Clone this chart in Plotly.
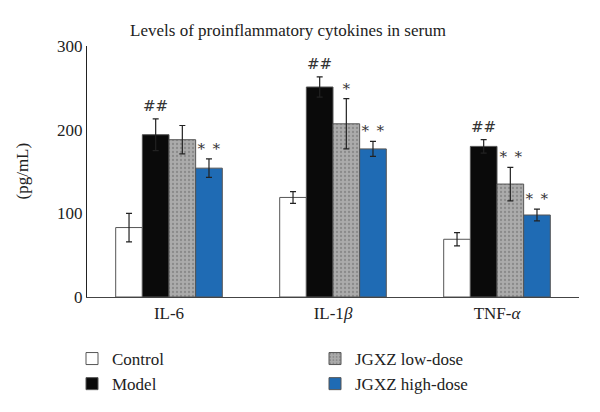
import plotly.graph_objects as go

categories = ["IL-6", "IL-1<i>β</i>", "TNF-<i>α</i>"]
groups = ["Control", "Model", "JGXZ low-dose", "JGXZ high-dose"]
control = [83, 119, 69]
control_err = [17, 7, 8]
model = [194, 251, 180]
model_err = [19, 12, 8]
low = [188, 207, 135]
low_err = [17, 30, 20]
high = [154, 177, 98]
high_err = [11, 9, 7]
marks = [
    ["", "##", "", "∗ ∗"],
    ["", "##", "∗", "∗ ∗"],
    ["", "##", "∗ ∗", "∗ ∗"],
]

values = [control, model, low, high]
errors = [control_err, model_err, low_err, high_err]
fills = ["white", "#0a0a0a", "#a9a9a9", "#1f6bb4"]
legends = ["legend", "legend", "legend2", "legend2"]

FONT = "Liberation Serif"
W, H = 600, 412
ml, mr, mt, mb = 87, 21, 46, 115
bargap = 0.35

fig = go.Figure()
for i, g in enumerate(groups):
    marker = dict(color=fills[i], line=dict(color="#555555", width=1))
    if i == 2:
        marker["pattern"] = dict(shape=".", fgcolor="#8a8a8a", bgcolor="#ababab",
                                 size=4, solidity=0.25, fillmode="replace")
    fig.add_trace(go.Bar(
        x=categories, y=values[i], name=g, marker=marker,
        error_y=dict(type="data", array=errors[i], color="#222222",
                     thickness=1.2, width=3),
        legend=legends[i],
    ))

# annotations above error bars
plot_w = W - ml - mr
cat_px = plot_w / len(categories)
bar_px = cat_px * (1 - bargap) / len(groups)
for ci, cat in enumerate(categories):
    for gi in range(len(groups)):
        txt = marks[ci][gi]
        if not txt:
            continue
        fig.add_annotation(
            x=cat, y=values[gi][ci] + errors[gi][ci], xref="x", yref="y",
            text=txt, showarrow=False, yanchor="bottom", yshift=2,
            xshift=(gi - 1.5) * bar_px,
            font=dict(family="DejaVu Serif", size=15, color="#333333"),
        )

fig.add_annotation(
    text="(pg/mL)", textangle=-90, xref="paper", yref="paper",
    x=(22 - ml) / plot_w, y=0.5, xanchor="center", yanchor="middle",
    showarrow=False, font=dict(family=FONT, size=17, color="#222222"),
)

leg_y = 1 - 341 / H
fig.update_layout(
    width=W, height=H,
    margin=dict(l=ml, r=mr, t=mt, b=mb, autoexpand=False),
    paper_bgcolor="white", plot_bgcolor="white",
    barmode="group", bargap=bargap, bargroupgap=0,
    font=dict(family=FONT, size=17, color="#222222"),
    title=dict(text="Levels of proinflammatory cytokines in serum",
               x=0.48, xanchor="center", y=1 - 30 / H, yanchor="middle",
               font=dict(family=FONT, size=17, color="#222222")),
    legend=dict(x=72 / W, xref="container", xanchor="left",
                y=leg_y, yref="container", yanchor="top",
                orientation="v", font=dict(family=FONT, size=17),
                tracegroupgap=0, itemwidth=30, bgcolor="rgba(0,0,0,0)"),
    legend2=dict(x=315 / W, xref="container", xanchor="left",
                 y=leg_y, yref="container", yanchor="top",
                 orientation="v", font=dict(family=FONT, size=17),
                 tracegroupgap=0, itemwidth=30, bgcolor="rgba(0,0,0,0)"),
    showlegend=True,
)
fig.update_xaxes(showline=True, linecolor="#444444", linewidth=1.2,
                 ticks="", showgrid=False, automargin=False,
                 tickfont=dict(family=FONT, size=17))
fig.update_yaxes(range=[0, 300], tickvals=[0, 100, 200, 300], showline=True,
                 linecolor="#222222", linewidth=1.2, ticks="", showgrid=False,
                 zeroline=False, automargin=False,
                 tickfont=dict(family=FONT, size=17))

fig.write_html("out.html",
               config={"displayModeBar": False},
               post_script="document.body.style.margin='0';")
